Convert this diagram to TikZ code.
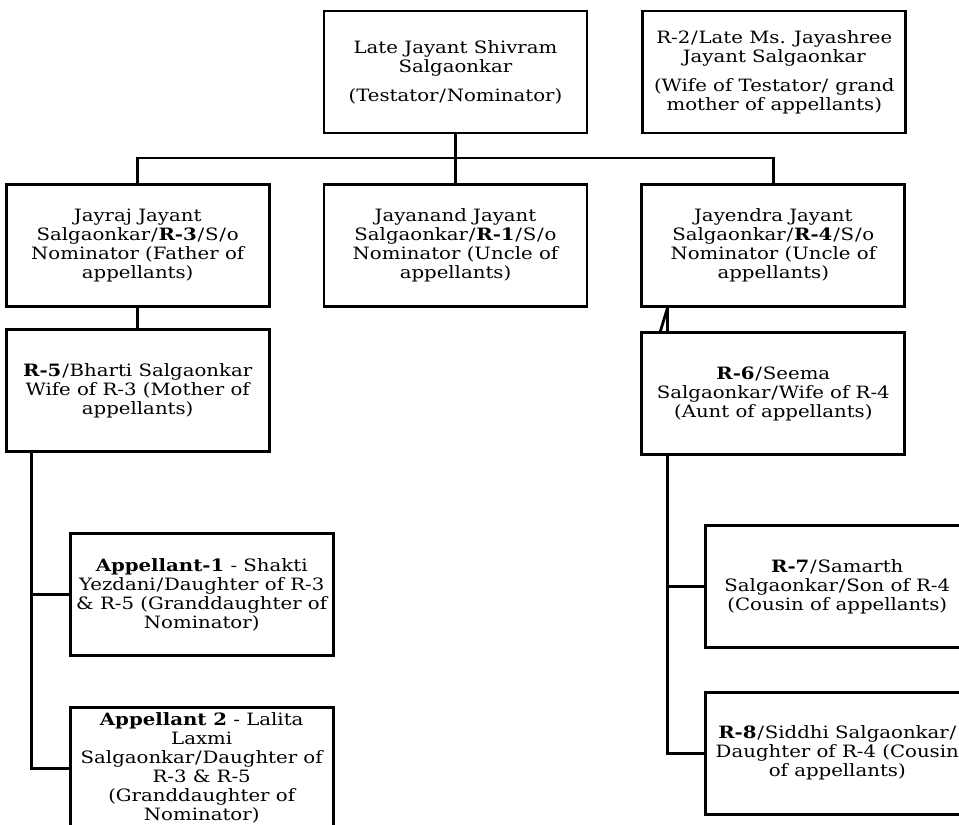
\documentclass[tikz,border=0pt]{standalone}
\usepackage{fontspec}
\setmainfont{DejaVu Serif}[FakeStretch=1.16]
\usepackage{tikz}
\usetikzlibrary{positioning}

\newcommand{\slashsp}{\hspace{0.8pt}/\hspace{0.8pt}}

\begin{document}
\begin{tikzpicture}[x=1pt, y=-1pt, line width=2.8pt,
        person/.style={draw, rectangle, minimum width=263pt, minimum height=122pt, inner sep=0pt, align=center, font=\fontsize{17}{19}\selectfont}]
        \useasboundingbox (0,0) rectangle (959,825);
        \clip (0,0) rectangle (959,825);

        % Testator
        \node (testator) [person] at (455.5,72) {Late Jayant Shivram\\Salgaonkar\\[10pt](Testator\slashsp Nominator)};

        % Wife of testator
        \node (r2) [person, right=53pt of testator] {R-2\slashsp Late Ms. Jayashree\\Jayant Salgaonkar\\[10pt](Wife of Testator\slashsp{} grand\\mother of appellants)};

        % Sons
        \node (r1) [person, below=49pt of testator] {Jayanand Jayant\\Salgaonkar\slashsp\textbf{R-1}\slashsp S\slashsp o\\Nominator (Uncle of\\appellants)};
        \node (r3) [person, left=52pt of r1] {Jayraj Jayant\\Salgaonkar\slashsp\textbf{R-3}\slashsp S\slashsp o\\Nominator (Father of\\appellants)};
        \node (r4) [person, right=52pt of r1] {Jayendra Jayant\\Salgaonkar\slashsp\textbf{R-4}\slashsp S\slashsp o\\Nominator (Uncle of\\appellants)};

        % Wives of sons
        \node (r5) [person, below=20pt of r3] {\textbf{R-5}\slashsp Bharti Salgaonkar\\Wife of R-3 (Mother of\\appellants)};
        \node (r6) [person, below=23pt of r4] {\textbf{R-6}\slashsp Seema\\Salgaonkar\slashsp Wife of R-4\\(Aunt of appellants)};

        % Appellants
        \node (app1) [person, below=79pt of r5, xshift=64pt] {\textbf{Appellant-1} - Shakti\\Yezdani\slashsp Daughter of R-3\\\& R-5 (Granddaughter of\\Nominator)};
        \node (app2) [person, below=49pt of app1] {\textbf{Appellant 2} - Lalita\\Laxmi\\Salgaonkar\slashsp Daughter of\\R-3 \& R-5\\(Granddaughter of\\Nominator)};

        % Children of R-4
        \node (r7) [person, below=68pt of r6, xshift=64pt] {\textbf{R-7}\slashsp Samarth\\Salgaonkar\slashsp Son of R-4\\(Cousin of appellants)};
        \node (r8) [person, below=42pt of r7] {\textbf{R-8}\slashsp Siddhi Salgaonkar\slashsp\\Daughter of R-4 (Cousin\\of appellants)};

        % Lines
        \coordinate (bus) at (testator.south |- 0,158);
        \draw (testator.south) -- (bus);
        \draw (r3.north) |- (bus) -| (r4.north);
        \draw (bus) -- (r1.north);
        \draw (r3.south) -- (r3.south |- r5.north);
        \draw ([xshift=27pt]r4.south west) -- ([xshift=27pt]r6.north west);
        \draw ([xshift=27pt]r4.south west) -- ([xshift=20pt]r6.north west);

        % Branch lines
        \draw ([xshift=27pt]r5.south west) |- (app1.west);
        \draw ([xshift=27pt]r5.south west) |- (app2.west);
        \draw ([xshift=27pt]r6.south west) |- (r7.west);
        \draw ([xshift=27pt]r6.south west) |- (r8.west);
    \end{tikzpicture}
\end{document}
